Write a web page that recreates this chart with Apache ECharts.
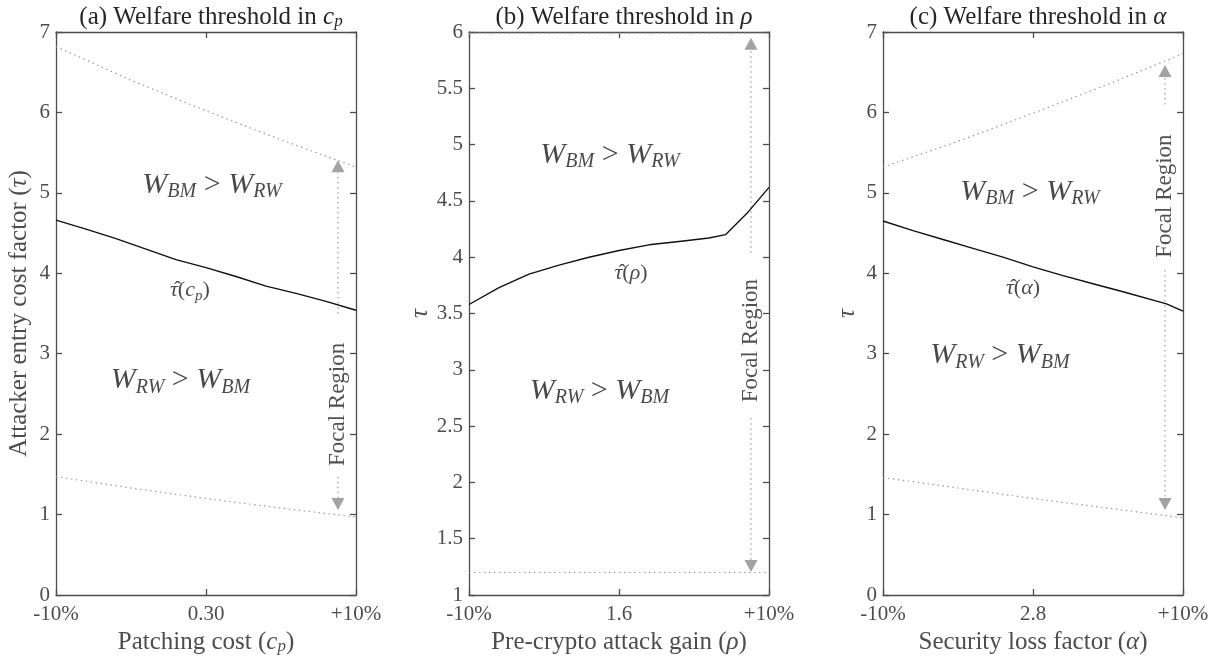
<!DOCTYPE html>
<html>
<head lang="en">
    <meta charset="UTF-8"/>
    <title>Welfare threshold</title>
    <script src="https://cdn.jsdelivr.net/npm/echarts@6/dist/echarts.min.js"></script>
    <style>
        html, body { margin: 0; padding: 0; background: #fff; }
        #main { width: 1225px; height: 663px; }
    </style>
</head>
<body>
<div id="main"></div>
<script>
    // x positions are % change from the base value (-10% .. +10%)
    var xTicksA = ['-10%', '0.30', '+10%'];
    var xTicksB = ['-10%', '1.6', '+10%'];
    var xTicksC = ['-10%', '2.8', '+10%'];

    // threshold curves tau-hat
    var pctA = [-10, -8, -6, -4, -2, 0, 2, 4, 6, 8, 10];
    var tauA = [4.66, 4.55, 4.43, 4.30, 4.17, 4.07, 3.96, 3.84, 3.75, 3.65, 3.54];
    var pctB = [-10, -8, -6, -4, -2, 0, 2, 4, 6, 7.1, 8.6, 10];
    var tauB = [3.58, 3.73, 3.85, 3.93, 4.00, 4.06, 4.11, 4.14, 4.17, 4.20, 4.40, 4.62];
    var pctC = [-10, -8, -6, -4, -2, 0, 2, 4, 6, 8.9, 10];
    var tauC = [4.65, 4.53, 4.42, 4.31, 4.20, 4.08, 3.97, 3.87, 3.77, 3.62, 3.53];

    // dotted bounds
    var pctBound = [-10, -5, 0, 5, 10];
    var upA = [6.82, 6.40, 6.02, 5.66, 5.32];
    var lowA = [1.47, 1.33, 1.20, 1.08, 0.97];
    var pctBoundB = [-10, 10];
    var upB = [5.99, 5.99];
    var lowB = [1.20, 1.20];
    var upC = [5.32, 5.64, 5.99, 6.35, 6.73];
    var lowC = [1.46, 1.33, 1.20, 1.08, 0.96];

    // focal region arrow: upper segment [from,to], lower segment [from,to], triangle centres, label centre
    var focalX = 8.8;
    var focalA = {upSeg: [3.5, 5.25], lowSeg: [1.47, 1.20], upTri: 5.33, downTri: 1.13, text: 2.37};
    var focalB = {upSeg: [4.04, 5.85], lowSeg: [2.57, 1.31], upTri: 5.895, downTri: 1.257, text: 3.26};
    var focalC = {upSeg: [6.10, 6.44], lowSeg: [4.04, 1.20], upTri: 6.515, downTri: 1.13, text: 4.96};

    // region annotations (centre) and tau-hat label (left edge) [x, y]
    var noteA = {bm: [0.4, 5.1], rw: [-1.7, 2.67], tau: [-2.4, 3.79]};
    var noteB = {bm: [-0.6, 4.91], rw: [-1.3, 2.81], tau: [-0.3, 3.86]};
    var noteC = {bm: [-0.2, 5.01], rw: [-2.2, 2.98], tau: [-1.8, 3.82]};

    var FONT = 'Liberation Serif';
    var GREY = '#4d4d4d';
    var INK = '#1a1a1a';

    var rich = {
        n: {fontFamily: FONT, fontSize: 25, color: GREY},
        i: {fontFamily: FONT, fontSize: 25, fontStyle: 'italic', color: GREY},
        s: {fontFamily: FONT, fontSize: 17, fontStyle: 'italic', color: GREY, verticalAlign: 'bottom', lineHeight: 14},
        tn: {fontFamily: FONT, fontSize: 25, color: '#262626'},
        ti: {fontFamily: FONT, fontSize: 25, fontStyle: 'italic', color: '#262626'},
        ts: {fontFamily: FONT, fontSize: 17, fontStyle: 'italic', color: '#262626', verticalAlign: 'bottom', lineHeight: 14},
        W: {fontFamily: FONT, fontSize: 30, fontStyle: 'italic', color: INK, lineHeight: 34},
        g: {fontFamily: FONT, fontSize: 30, color: INK, lineHeight: 34},
        ws: {fontFamily: FONT, fontSize: 20, fontStyle: 'italic', color: INK, verticalAlign: 'bottom', lineHeight: 17},
        h: {fontFamily: FONT, fontSize: 22, fontStyle: 'italic', color: INK, lineHeight: 26},
        hn: {fontFamily: FONT, fontSize: 22, color: INK, lineHeight: 26},
        hs: {fontFamily: FONT, fontSize: 15, fontStyle: 'italic', color: INK, verticalAlign: 'bottom', lineHeight: 12}
    };

    var panels = [
        {left: 56, title: '{tn|(a) Welfare threshold in }{ti|c}{ts|p}', yMin: 0, yMax: 7, yInt: 1,
            xName: '{n|Patching cost (}{i|c}{s|p}{n|)}', yName: '{n|Attacker entry cost factor (}{i|τ}{n|)}', yGap: 24,
            ticks: xTicksA, pct: pctA, tau: tauA, bx: pctBound, up: upA, low: lowA, focal: focalA, note: noteA,
            hat: '{h|τ}{hn|(}{h|c}{hs|p}{hn|)}'},
        {left: 469, title: '{tn|(b) Welfare threshold in }{ti|ρ}', yMin: 1, yMax: 6, yInt: 0.5,
            xName: '{n|Pre-crypto attack gain (}{i|ρ}{n|)}', yName: '{i|τ}', yGap: 23,
            ticks: xTicksB, pct: pctB, tau: tauB, bx: pctBoundB, up: upB, low: lowB, focal: focalB, note: noteB,
            hat: '{h|τ}{hn|(}{h|ρ}{hn|)}'},
        {left: 883, title: '{tn|(c) Welfare threshold in }{ti|α}', yMin: 0, yMax: 7, yInt: 1,
            xName: '{n|Security loss factor (}{i|α}{n|)}', yName: '{i|τ}', yGap: 23,
            ticks: xTicksC, pct: pctC, tau: tauC, bx: pctBound, up: upC, low: lowC, focal: focalC, note: noteC,
            hat: '{h|τ}{hn|(}{h|α}{hn|)}'}
    ];

    function zip(xs, ys) {
        return xs.map(function (x, k) { return [x, ys[k]]; });
    }

    var grids = [], xAxes = [], yAxes = [], titles = [], series = [];
    var axisLine = {show: true, onZero: false, lineStyle: {color: GREY, width: 1.3}};
    var axisTick = {show: true, inside: true, length: 6, lineStyle: {color: GREY, width: 1.3}};

    panels.forEach(function (p, i) {
        grids.push({left: p.left, top: 32, width: 300, height: 563});
        titles.push({
            text: p.title, left: p.left + 150, top: 0, textAlign: 'center',
            textStyle: {fontWeight: 'normal', rich: rich}
        });
        xAxes.push({
            gridIndex: i, type: 'value', min: -10, max: 10, interval: 10, position: 'bottom',
            axisLine: axisLine, axisTick: axisTick, splitLine: {show: false},
            axisLabel: {
                margin: 9, color: GREY, fontFamily: FONT, fontSize: 21,
                formatter: function (v) { return p.ticks[Math.round((v + 10) / 10)]; }
            },
            name: p.xName, nameLocation: 'middle', nameGap: 34, nameTextStyle: {rich: rich}
        });
        xAxes.push({
            gridIndex: i, type: 'value', min: -10, max: 10, interval: 10, position: 'top',
            axisLine: axisLine, axisTick: axisTick, splitLine: {show: false}, axisLabel: {show: false}
        });
        yAxes.push({
            gridIndex: i, type: 'value', min: p.yMin, max: p.yMax, interval: p.yInt, position: 'left',
            axisLine: axisLine, axisTick: axisTick, splitLine: {show: false},
            axisLabel: {margin: 6, color: GREY, fontFamily: FONT, fontSize: 21},
            name: p.yName, nameLocation: 'middle', nameGap: p.yGap, nameTextStyle: {rich: rich}
        });
        yAxes.push({
            gridIndex: i, type: 'value', min: p.yMin, max: p.yMax, interval: p.yInt, position: 'right',
            axisLine: axisLine, axisTick: axisTick, splitLine: {show: false}, axisLabel: {show: false}
        });

        var xi = 2 * i, yi = 2 * i;
        var dotted = {color: '#9a9a9a', width: 1.2, type: [1.5, 3.5]};

        series.push({
            type: 'line', xAxisIndex: xi, yAxisIndex: yi, data: zip(p.pct, p.tau),
            showSymbol: false, lineStyle: {color: '#111', width: 1.4}, silent: true, z: 5
        });
        series.push({
            type: 'line', xAxisIndex: xi, yAxisIndex: yi, data: zip(p.bx, p.up),
            showSymbol: false, lineStyle: dotted, silent: true
        });
        series.push({
            type: 'line', xAxisIndex: xi, yAxisIndex: yi, data: zip(p.bx, p.low),
            showSymbol: false, lineStyle: dotted, silent: true
        });
        [p.focal.upSeg, p.focal.lowSeg].forEach(function (seg) {
            series.push({
                type: 'line', xAxisIndex: xi, yAxisIndex: yi,
                data: [[focalX, seg[0]], [focalX, seg[1]]],
                showSymbol: false, lineStyle: dotted, silent: true
            });
        });
        series.push({
            type: 'scatter', xAxisIndex: xi, yAxisIndex: yi, silent: true,
            symbol: 'triangle', symbolSize: [13, 12], itemStyle: {color: '#8c8c8c'},
            data: [
                {value: [focalX, p.focal.upTri]},
                {value: [focalX, p.focal.downTri], symbolRotate: 180}
            ]
        });
        // text annotations anchored in data coordinates
        series.push({
            type: 'scatter', xAxisIndex: xi, yAxisIndex: yi, silent: true, symbolSize: 0,
            label: {show: true, position: 'inside', rich: rich},
            data: [
                {value: p.note.bm, label: {formatter: '{W|W}{ws|BM}{g| > }{W|W}{ws|RW}'}},
                {value: p.note.rw, label: {formatter: '{W|W}{ws|RW}{g| > }{W|W}{ws|BM}'}},
                {value: p.note.tau, label: {formatter: p.hat, align: 'left'}},
                {value: p.note.tau, label: {
                    formatter: 'ˆ', align: 'left', offset: [4, 0], fontFamily: FONT, fontSize: 22,
                    lineHeight: 26, color: INK
                }},
                {value: [focalX, p.focal.text], label: {
                    formatter: 'Focal Region', rotate: 90, fontFamily: FONT, fontSize: 23, color: '#262626'
                }}
            ]
        });
    });

    var chart = echarts.init(document.getElementById('main'));
    chart.setOption({
        animation: false,
        backgroundColor: '#fff',
        title: titles,
        grid: grids,
        xAxis: xAxes,
        yAxis: yAxes,
        series: series
    });
</script>
</body>
</html>
